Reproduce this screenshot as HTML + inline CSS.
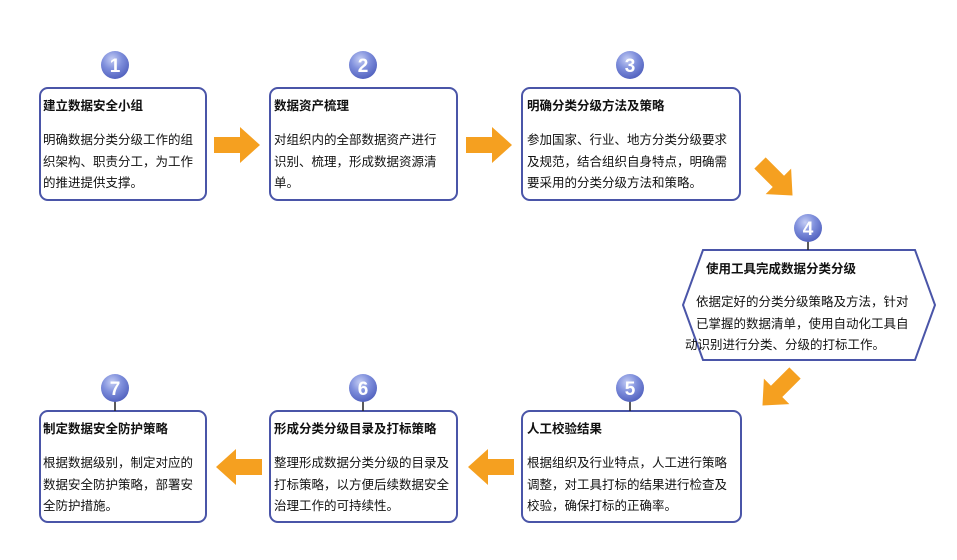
<!DOCTYPE html>
<html><head><meta charset="utf-8"><style>
body{margin:0;background:#fff;width:957px;height:560px;overflow:hidden;position:relative;font-family:"Liberation Sans","Noto Sans CJK SC",sans-serif;color:#111}
.t{position:absolute;font-size:12.5px;font-weight:bold;white-space:nowrap}
.b{position:absolute;font-size:12.5px;line-height:21.5px}
</style></head><body>
<svg width="957" height="560" style="position:absolute;left:0;top:0">
<defs>
<radialGradient id="g" cx="40%" cy="30%" r="70%"><stop offset="0" stop-color="#c4cdf4"/><stop offset="0.5" stop-color="#7f8fdc"/><stop offset="1" stop-color="#5464c0"/></radialGradient>
<g id="ar"><polygon points="0,-8 26,-8 26,-18 46,0 26,18 26,8 0,8" fill="#f5a020"/></g>
</defs>
<g fill="#fff" stroke="#4a55a8" stroke-width="2">
<rect x="40" y="88" width="166" height="112" rx="8"/>
<rect x="270" y="88" width="187" height="112" rx="8"/>
<rect x="522" y="88" width="218" height="112" rx="8"/>
<polygon points="703,250 915,250 935,305 915,360 703,360 683,305"/>
<rect x="522" y="411" width="219" height="111" rx="8"/>
<rect x="270" y="411" width="187" height="111" rx="8"/>
<rect x="40" y="411" width="166" height="111" rx="8"/>
</g>
<g stroke="#222" stroke-width="1.5">
<line x1="808" y1="240" x2="808" y2="250"/>
<line x1="630" y1="400" x2="630" y2="411"/>
<line x1="363" y1="400" x2="363" y2="411"/>
<line x1="115" y1="400" x2="115" y2="411"/>
</g>
<use href="#ar" x="214" y="145"/>
<use href="#ar" x="466" y="145"/>
<use href="#ar" transform="translate(514,467) scale(-1,1)"/>
<use href="#ar" transform="translate(262,467) scale(-1,1)"/>
<use href="#ar" transform="translate(760,163) rotate(45)"/>
<use href="#ar" transform="translate(795,373) rotate(135)"/>
<g font-family="Liberation Sans,sans-serif" font-weight="bold" font-size="19" fill="#fff" text-anchor="middle">
<circle cx="115" cy="65" r="14" fill="url(#g)"/><text x="115" y="72">1</text>
<circle cx="363" cy="65" r="14" fill="url(#g)"/><text x="363" y="72">2</text>
<circle cx="630" cy="65" r="14" fill="url(#g)"/><text x="630" y="72">3</text>
<circle cx="808" cy="228" r="14" fill="url(#g)"/><text x="808" y="235">4</text>
<circle cx="630" cy="388" r="14" fill="url(#g)"/><text x="630" y="395">5</text>
<circle cx="363" cy="388" r="14" fill="url(#g)"/><text x="363" y="395">6</text>
<circle cx="115" cy="388" r="14" fill="url(#g)"/><text x="115" y="395">7</text>
</g>
</svg>
<div class="t" style="left:43px;top:95px">建立数据安全小组</div>
<div class="b" style="left:43px;top:130px;width:162px">明确数据分类分级工作的组织架构、职责分工，为工作的推进提供支撑。</div>
<div class="t" style="left:274px;top:95px">数据资产梳理</div>
<div class="b" style="left:274px;top:130px;width:168px">对组织内的全部数据资产进行识别、梳理，形成数据资源清单。</div>
<div class="t" style="left:527px;top:95px">明确分类分级方法及策略</div>
<div class="b" style="left:527px;top:130px;width:210px">参加国家、行业、地方分类分级要求及规范，结合组织自身特点，明确需要采用的分类分级方法和策略。</div>
<div class="t" style="left:706px;top:258px">使用工具完成数据分类分级</div>
<div class="b" style="left:685px;top:292px;width:218px;padding-left:11px;text-indent:0">依据定好的分类分级策略及方法，针对<br>已掌握的数据清单，使用自动化工具自<br><span style="margin-left:-11px">动识别进行分类、分级的打标工作。</span></div>
<div class="t" style="left:527px;top:418px">人工校验结果</div>
<div class="b" style="left:527px;top:453px;width:212px">根据组织及行业特点，人工进行策略调整，对工具打标的结果进行检查及校验，确保打标的正确率。</div>
<div class="t" style="left:274px;top:418px">形成分类分级目录及打标策略</div>
<div class="b" style="left:274px;top:453px;width:180px">整理形成数据分类分级的目录及打标策略，以方便后续数据安全治理工作的可持续性。</div>
<div class="t" style="left:43px;top:418px">制定数据安全防护策略</div>
<div class="b" style="left:43px;top:453px;width:162px">根据数据级别，制定对应的数据安全防护策略，部署安全防护措施。</div>
</body></html>
